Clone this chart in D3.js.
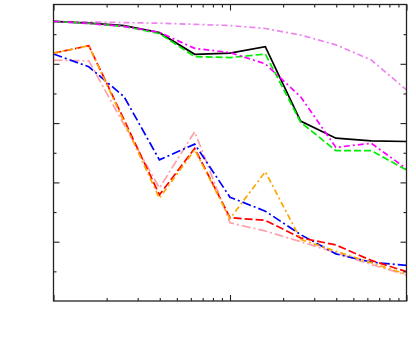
<!DOCTYPE html>
<html>
<head>
<meta charset="utf-8">
<script src="https://cdn.jsdelivr.net/npm/d3@7"></script>
<style>
  html, body { margin: 0; padding: 0; background: #fff; }
  svg { display: block; }
</style>
</head>
<body>
<script>
// x values (log axis, 1 .. 100)
const xs = [1, 1.585, 2.512, 3.981, 6.310, 10, 15.85, 25.12, 39.81, 63.10, 100];

// series values (y axis 0 .. 1)
const blackVals   = [0.943, 0.937, 0.929, 0.905, 0.832, 0.836, 0.858, 0.607, 0.549, 0.540, 0.538];
const greenVals   = [0.943, 0.936, 0.926, 0.902, 0.824, 0.821, 0.833, 0.603, 0.507, 0.507, 0.442];
const magentaVals = [0.943, 0.936, 0.926, 0.906, 0.852, 0.838, 0.800, 0.689, 0.518, 0.532, 0.446];
const violetVals  = [0.943, 0.941, 0.939, 0.937, 0.933, 0.929, 0.919, 0.897, 0.864, 0.813, 0.712];
const blueVals    = [0.833, 0.790, 0.689, 0.476, 0.529, 0.350, 0.303, 0.224, 0.159, 0.131, 0.120];
const redVals     = [0.836, 0.861, 0.611, 0.358, 0.515, 0.281, 0.272, 0.213, 0.189, 0.137, 0.099];
const orangeVals  = [0.836, 0.861, 0.604, 0.347, 0.510, 0.278, 0.436, 0.208, 0.168, 0.129, 0.090];
const pinkVals    = [0.812, 0.810, 0.594, 0.381, 0.571, 0.264, 0.236, 0.200, 0.163, 0.123, 0.088];

// tick values
const xMajor = [1, 10, 100];
const xMinor = [2, 3, 4, 5, 6, 7, 8, 9, 20, 30, 40, 50, 60, 70, 80, 90];
const yMajor = [0.2, 0.4, 0.6, 0.8];
const yMinor = [0.1, 0.3, 0.5, 0.7, 0.9];

const W = 416, H = 338;
const m = { left: 53.5, top: 4.5, right: 416 - 406.5, bottom: 338 - 301 };

const svg = d3.select('body').append('svg')
  .attr('width', W).attr('height', H)
  .attr('viewBox', `0 0 ${W} ${H}`);
svg.append('rect').attr('width', W).attr('height', H).attr('fill', '#fff');

const x = d3.scaleLog().domain([1, 100]).range([m.left, W - m.right]);
const y = d3.scaleLinear().domain([0, 1]).range([H - m.bottom, m.top]);

const series = [
  { vals: violetVals,  color: '#ee82ee', dash: '6,3,2,3' },
  { vals: blackVals,   color: '#000000', dash: null },
  { vals: greenVals,   color: '#00ee00', dash: '7,3' },
  { vals: magentaVals, color: '#ff00ff', dash: '6,3,2,3' },
  { vals: pinkVals,    color: '#ffa0a8', dash: '9,3,2,3' },
  { vals: blueVals,    color: '#0000ff', dash: '9,3,2,3' },
  { vals: redVals,     color: '#ff0000', dash: '8,3' },
  { vals: orangeVals,  color: '#ffa500', dash: '6,3,2,3' }
];

const line = d3.line()
  .x((d, i) => x(xs[i]))
  .y(d => y(d));

const g = svg.append('g');
series.forEach(s => {
  const p = g.append('path')
    .attr('d', line(s.vals))
    .attr('fill', 'none')
    .attr('stroke', s.color)
    .attr('stroke-width', 1.7)
    .attr('stroke-linejoin', 'miter');
  if (s.dash) p.attr('stroke-dasharray', s.dash);
});

// inward ticks on all four sides
function addAxis(axisFn, scale, vals, len, tx, ty) {
  const a = svg.append('g')
    .attr('transform', `translate(${tx},${ty})`)
    .call(axisFn(scale).tickValues(vals).tickSize(-len).tickFormat(''));
  a.select('.domain').remove();
  a.selectAll('line').attr('stroke', '#222').attr('stroke-width', 1.1);
}
const bottomY = H - m.bottom, rightX = W - m.right;
addAxis(d3.axisBottom, x, xMajor, 6, 0, bottomY);
addAxis(d3.axisBottom, x, xMinor, 3, 0, bottomY);
addAxis(d3.axisTop, x, xMajor, 6, 0, m.top);
addAxis(d3.axisTop, x, xMinor, 3, 0, m.top);
addAxis(d3.axisLeft, y, yMajor, 6, m.left, 0);
addAxis(d3.axisLeft, y, yMinor, 3, m.left, 0);
addAxis(d3.axisRight, y, yMajor, 6, rightX, 0);
addAxis(d3.axisRight, y, yMinor, 3, rightX, 0);

// frame
svg.append('rect')
  .attr('x', m.left).attr('y', m.top)
  .attr('width', rightX - m.left).attr('height', bottomY - m.top)
  .attr('fill', 'none')
  .attr('stroke', '#222')
  .attr('stroke-width', 1.3);
</script>
</body>
</html>
